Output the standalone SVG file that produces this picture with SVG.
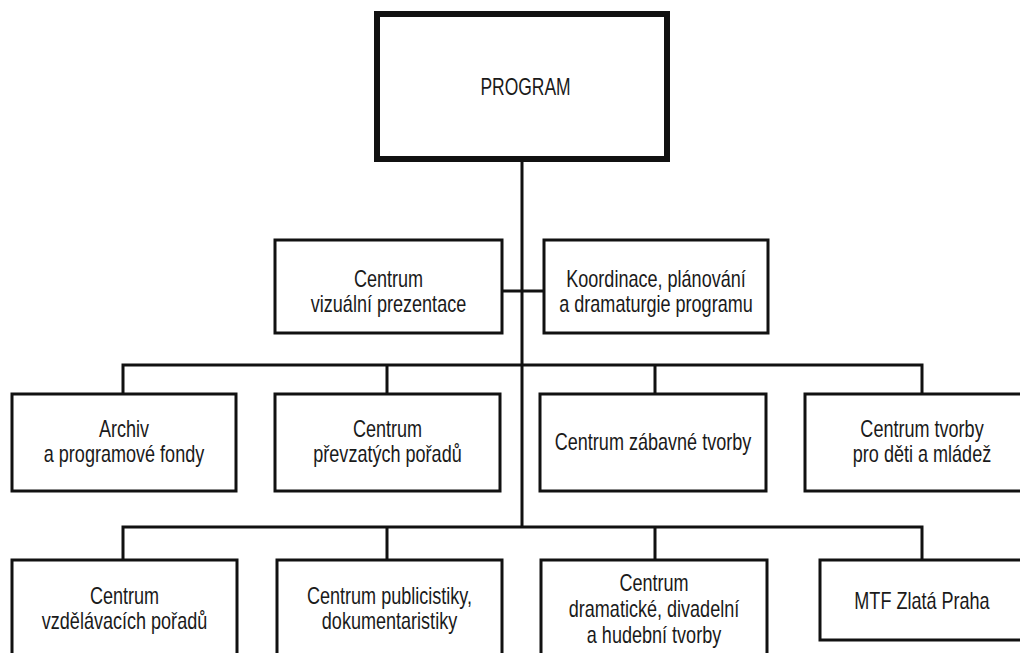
<svg xmlns="http://www.w3.org/2000/svg" width="1020" height="653" viewBox="0 0 1020 653">
<style>
.box{fill:#fff;stroke:#111;stroke-width:3}
.main{fill:#fff;stroke:#111;stroke-width:6}
.ln{fill:none;stroke:#111;stroke-width:3}
text{font-family:"Liberation Sans Narrow","Arial Narrow","Liberation Sans",Arial,sans-serif;font-size:23px;fill:#1a1a1a;text-anchor:middle}
</style>
<rect width="1020" height="653" fill="#fff"/>
<g id="connectors">
<path class="ln" d="M522,159 V527"/>
<path class="ln" d="M502,291 H544"/>
<path class="ln" d="M123,394 V365 H922 V394 M387,365 V394 M655,365 V394"/>
<path class="ln" d="M123,560 V527 H922 V560 M387,527 V560 M655,527 V560"/>
</g>
<g id="program">
<rect class="main" x="377" y="14" width="290" height="145"/>
<text transform="translate(525.5 0) scale(0.76 1)" y="95">PROGRAM</text>
</g>
<g id="vizualni">
<rect class="box" x="275" y="240" width="227" height="93"/>
<text transform="translate(388.5 0) scale(0.785 1)" y="287">Centrum</text>
<text transform="translate(388.5 0) scale(0.785 1)" y="312">vizuální prezentace</text>
</g>
<g id="koordinace">
<rect class="box" x="544" y="240" width="224" height="93"/>
<text transform="translate(656 0) scale(0.785 1)" y="287">Koordinace, plánování</text>
<text transform="translate(656 0) scale(0.785 1)" y="312">a dramaturgie programu</text>
</g>
<g id="archiv">
<rect class="box" x="12" y="394" width="224" height="97"/>
<text transform="translate(124 0) scale(0.785 1)" y="437">Archiv</text>
<text transform="translate(124 0) scale(0.785 1)" y="462">a programové fondy</text>
</g>
<g id="prevzatych">
<rect class="box" x="275" y="394" width="225" height="97"/>
<text transform="translate(387.5 0) scale(0.785 1)" y="437">Centrum</text>
<text transform="translate(387.5 0) scale(0.785 1)" y="462">převzatých pořadů</text>
</g>
<g id="zabavne">
<rect class="box" x="540" y="394" width="226" height="97"/>
<text transform="translate(653 0) scale(0.785 1)" y="450">Centrum zábavné tvorby</text>
</g>
<g id="deti">
<rect class="box" x="805" y="394" width="240" height="97"/>
<text transform="translate(922 0) scale(0.785 1)" y="437">Centrum tvorby</text>
<text transform="translate(922 0) scale(0.785 1)" y="462">pro děti a mládež</text>
</g>
<g id="vzdelavacich">
<rect class="box" x="12" y="560" width="225" height="120"/>
<text transform="translate(124.5 0) scale(0.785 1)" y="604">Centrum</text>
<text transform="translate(124.5 0) scale(0.785 1)" y="629">vzdělávacích pořadů</text>
</g>
<g id="publicistiky">
<rect class="box" x="277" y="560" width="225" height="120"/>
<text transform="translate(389.5 0) scale(0.785 1)" y="604">Centrum publicistiky,</text>
<text transform="translate(389.5 0) scale(0.785 1)" y="629">dokumentaristiky</text>
</g>
<g id="dramaticke">
<rect class="box" x="541" y="560" width="226" height="120"/>
<text transform="translate(654 0) scale(0.785 1)" y="591">Centrum</text>
<text transform="translate(654 0) scale(0.785 1)" y="617">dramatické, divadelní</text>
<text transform="translate(654 0) scale(0.785 1)" y="643">a hudební tvorby</text>
</g>
<g id="mtf">
<rect class="box" x="820" y="560" width="230" height="80"/>
<text transform="translate(922 0) scale(0.785 1)" y="609">MTF Zlatá Praha</text>
</g>
</svg>
